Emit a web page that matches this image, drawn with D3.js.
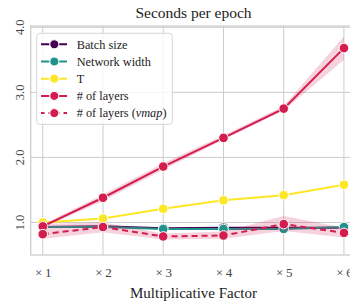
<!DOCTYPE html>
<html>
<head>
<meta charset="utf-8">
<script src="https://cdn.jsdelivr.net/npm/d3@7"></script>
<style>
  body { margin: 0; background: #fff; }
  svg { display: block; font-family: "Liberation Serif", "Times New Roman", serif; }
</style>
</head>
<body>
<div id="chart"></div>
<script>
// multiplicative factors on the x axis
const factors = [1, 2, 3, 4, 5, 6];
const xTickLabels = ["×\u20091", "×\u20092", "×\u20093", "×\u20094", "×\u20095", "×\u20096"];
const yTicks = [1.0, 2.0, 3.0, 4.0];

// seconds per epoch
const batchSize = [0.93, 0.94, 0.91, 0.92, 0.92, 0.92];
const networkWidth = [0.93, 0.93, 0.90, 0.90, 0.90, 0.93];
const tValues = [1.00, 1.06, 1.21, 1.34, 1.42, 1.58];
const layers = [0.94, 1.38, 1.86, 2.30, 2.75, 3.68];
const layersLow = [0.92, 1.33, 1.81, 2.27, 2.72, 3.50];
const layersHigh = [0.97, 1.43, 1.91, 2.34, 2.79, 3.86];
const layersVmap = [0.82, 0.93, 0.785, 0.80, 0.975, 0.84];
const vmapLow = [0.75, 0.85, 0.74, 0.75, 0.87, 0.77];
const vmapHigh = [0.98, 1.00, 0.83, 0.86, 1.10, 0.92];

const series = [
  { name: "Batch size", values: batchSize, color: "#440154" },
  { name: "Network width", values: networkWidth, color: "#21918c" },
  { name: "T", values: tValues, color: "#fde725" },
  { name: "# of layers", values: layers, low: layersLow, high: layersHigh, color: "#d41c4e" },
  { name: "# of layers (vmap)", values: layersVmap, low: vmapLow, high: vmapHigh, color: "#d41c4e", dashed: true }
];

const width = 350, height = 303;
const svg = d3.select("#chart").append("svg")
  .attr("width", width).attr("height", height);

const x = d3.scaleLinear().domain([0.8, 6.2]).range([30.7, 356]);
const y = d3.scaleLinear().domain([0.5, 4.02]).range([255, 26]);

const grid = "#cccccc";

// grid
svg.append("g").selectAll("line.v").data(factors).enter().append("line")
  .attr("x1", d => x(d)).attr("x2", d => x(d))
  .attr("y1", y.range()[0]).attr("y2", y.range()[1])
  .attr("stroke", grid).attr("stroke-width", 1);
svg.append("g").selectAll("line.h").data(yTicks).enter().append("line")
  .attr("x1", x.range()[0]).attr("x2", x.range()[1])
  .attr("y1", d => y(d)).attr("y2", d => y(d))
  .attr("stroke", grid).attr("stroke-width", 1);

// spines
svg.append("rect")
  .attr("x", x.range()[0]).attr("y", y.range()[1])
  .attr("width", x.range()[1] - x.range()[0]).attr("height", y.range()[0] - y.range()[1])
  .attr("fill", "none").attr("stroke", grid).attr("stroke-width", 1.25);

// axes text
const xAxis = d3.axisBottom(x).tickValues(factors).tickFormat((d, i) => xTickLabels[i]).tickSize(0).tickPadding(13);
const gx = svg.append("g").attr("transform", `translate(0,${y.range()[0]})`).call(xAxis);
gx.select(".domain").remove();
gx.attr("font-family", null).attr("font-size", null);
gx.selectAll("text").style("font-size", "13px").attr("fill", "#444")
  .style("font-family", "'Liberation Serif', serif");

svg.append("g").selectAll("text").data(yTicks).enter().append("text")
  .attr("transform", d => `translate(24,${y(d)}) rotate(-90)`)
  .attr("text-anchor", "middle")
  .attr("font-size", 12.5).attr("fill", "#444")
  .text(d => d.toFixed(1));

svg.append("text").attr("x", 193.5).attr("y", 18)
  .attr("text-anchor", "middle").attr("font-size", 15.5).attr("fill", "#222")
  .text("Seconds per epoch");
svg.append("text").attr("x", 193.5).attr("y", 298)
  .attr("text-anchor", "middle").attr("font-size", 15).attr("fill", "#222")
  .text("Multiplicative Factor");

// bands and lines
const line = d3.line().x((d, i) => x(factors[i])).y(d => y(d));

series.forEach(s => {
  if (s.low) {
    const band = d3.area().x((d, i) => x(factors[i])).y0((d, i) => y(s.low[i])).y1((d, i) => y(s.high[i]));
    svg.append("path").datum(s.values).attr("d", band)
      .attr("fill", s.color).attr("fill-opacity", 0.2).attr("stroke", "none");
  }
  svg.append("path").datum(s.values).attr("d", line)
    .attr("fill", "none").attr("stroke", s.color).attr("stroke-width", 2)
    .attr("stroke-dasharray", s.dashed ? "6,4" : null);
  svg.append("g").selectAll("circle").data(s.values).enter().append("circle")
    .attr("cx", (d, i) => x(factors[i])).attr("cy", d => y(d)).attr("r", 4.8)
    .attr("fill", s.color).attr("stroke", "#fff").attr("stroke-width", 1);
});

// legend
const lg = svg.append("g");
lg.append("rect").attr("x", 36.7).attr("y", 33.3).attr("width", 135.6).attr("height", 91)
  .attr("rx", 3).attr("fill", "#fff").attr("fill-opacity", 0.8)
  .attr("stroke", "#d6d6d6").attr("stroke-width", 1);
series.forEach((s, i) => {
  const yy = 44.3 + i * 17.2;
  lg.append("line").attr("x1", 41).attr("x2", 67).attr("y1", yy).attr("y2", yy)
    .attr("stroke", s.color).attr("stroke-width", 2)
    .attr("stroke-dasharray", s.dashed ? "3.5,4" : "8.5,9");
  lg.append("circle").attr("cx", 54.3).attr("cy", yy).attr("r", 4.5)
    .attr("fill", s.color).attr("stroke", "#fff").attr("stroke-width", 1);
  const t = lg.append("text").attr("x", 76.7).attr("y", yy + 4.2)
    .attr("font-size", 12.3).attr("fill", "#222");
  if (s.dashed) {
    t.append("tspan").text("# of layers (");
    t.append("tspan").attr("font-style", "italic").text("vmap");
    t.append("tspan").text(")");
  } else {
    t.text(s.name);
  }
});
</script>
</body>
</html>
